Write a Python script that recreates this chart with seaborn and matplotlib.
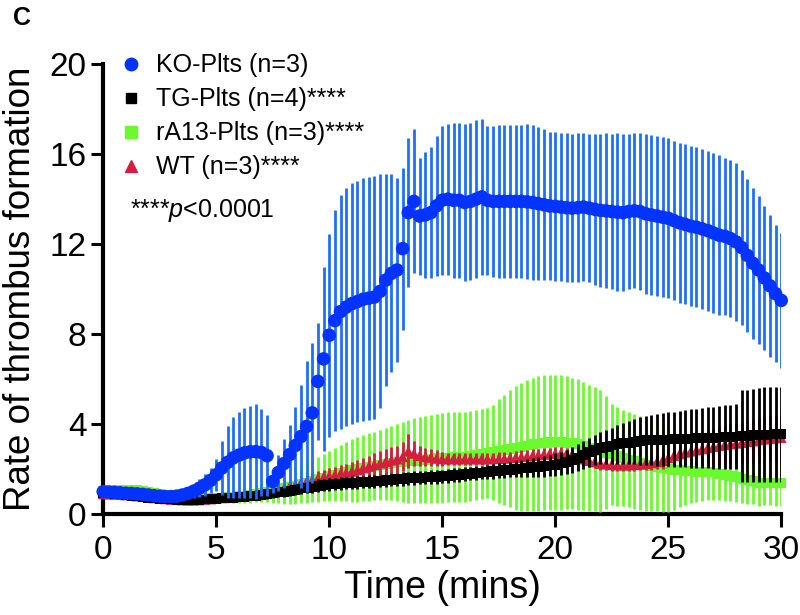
import matplotlib
matplotlib.use("Agg")
import matplotlib.pyplot as plt
from matplotlib.lines import Line2D
import numpy as np
import pandas as pd
import seaborn as sns

# time axis, one reading every 15 s
time_min = np.arange(0, 30.01, 0.25)

ko_mean = [
    1.00, 0.98, 0.97, 0.95, 0.93, 0.92, 0.90, 0.88,
    0.85, 0.82, 0.80, 0.78, 0.78, 0.80, 0.85, 0.92,
    1.02, 1.15, 1.30, 1.50, 1.75, 2.05, 2.30, 2.50,
    2.62, 2.72, 2.77, 2.78, 2.74, 2.60, 1.45, 1.85,
    2.25, 2.65, 3.05, 3.45, 3.90, 4.50, 5.90, 6.90,
    7.95, 8.60, 9.00, 9.20, 9.35, 9.45, 9.55, 9.60,
    9.65, 9.90, 10.40, 10.70, 10.85, 11.80, 13.40, 13.90,
    13.25, 13.30, 13.40, 13.70, 13.95, 14.00, 13.95, 13.95,
    13.85, 13.90, 14.00, 14.10, 13.95, 13.90, 13.90, 13.90,
    13.90, 13.90, 13.90, 13.88, 13.85, 13.80, 13.75, 13.70,
    13.68, 13.65, 13.62, 13.60, 13.62, 13.65, 13.60, 13.55,
    13.50, 13.48, 13.45, 13.42, 13.40, 13.45, 13.48, 13.45,
    13.35, 13.30, 13.25, 13.20, 13.15, 13.05, 12.95, 12.88,
    12.80, 12.75, 12.68, 12.60, 12.50, 12.40, 12.35, 12.25,
    12.10, 11.85, 11.50, 11.15, 10.85, 10.50, 10.15, 9.80,
    9.50]
ko_err = [
    0.08, 0.08, 0.08, 0.08, 0.08, 0.08, 0.08, 0.08,
    0.08, 0.08, 0.08, 0.08, 0.10, 0.12, 0.15, 0.20,
    0.30, 0.40, 0.50, 0.55, 0.70, 1.20, 1.60, 1.80,
    1.90, 2.00, 2.05, 2.10, 1.95, 1.80, 0.50, 0.80,
    1.10, 1.30, 1.70, 2.30, 2.90, 3.10, 2.60, 4.10,
    4.50, 4.90, 5.20, 5.30, 5.35, 5.35, 5.40, 5.40,
    5.40, 5.20, 4.70, 4.40, 4.10, 3.60, 3.30, 3.20,
    2.60, 2.80, 2.90, 3.10, 3.30, 3.35, 3.45, 3.45,
    3.50, 3.50, 3.50, 3.45, 3.30, 3.35, 3.40, 3.40,
    3.40, 3.40, 3.40, 3.45, 3.45, 3.40, 3.35, 3.30,
    3.30, 3.30, 3.30, 3.30, 3.30, 3.30, 3.30, 3.35,
    3.40, 3.45, 3.45, 3.50, 3.50, 3.45, 3.45, 3.50,
    3.55, 3.55, 3.55, 3.55, 3.55, 3.55, 3.55, 3.55,
    3.55, 3.55, 3.55, 3.55, 3.55, 3.55, 3.50, 3.50,
    3.50, 3.45, 3.40, 3.35, 3.30, 3.20, 3.15, 3.05,
    3.00]

tg_mean = [
    0.95, 0.93, 0.90, 0.88, 0.85, 0.82, 0.79, 0.75,
    0.72, 0.70, 0.68, 0.66, 0.65, 0.64, 0.64, 0.63,
    0.63, 0.64, 0.65, 0.66, 0.68, 0.70, 0.71, 0.73,
    0.75, 0.77, 0.79, 0.82, 0.85, 0.88, 0.92, 0.96,
    1.00, 1.04, 1.09, 1.14, 1.18, 1.22, 1.26, 1.29,
    1.32, 1.34, 1.36, 1.38, 1.40, 1.41, 1.43, 1.44,
    1.45, 1.48, 1.50, 1.53, 1.55, 1.57, 1.59, 1.60,
    1.62, 1.63, 1.65, 1.66, 1.68, 1.70, 1.73, 1.75,
    1.78, 1.80, 1.83, 1.85, 1.88, 1.90, 1.93, 1.95,
    1.98, 2.00, 2.03, 2.05, 2.08, 2.10, 2.13, 2.16,
    2.20, 2.25, 2.32, 2.40, 2.50, 2.62, 2.75, 2.85,
    2.95, 3.00, 3.05, 3.10, 3.15, 3.18, 3.22, 3.25,
    3.28, 3.29, 3.30, 3.31, 3.32, 3.33, 3.34, 3.35,
    3.36, 3.37, 3.38, 3.39, 3.40, 3.41, 3.42, 3.44,
    3.45, 3.47, 3.48, 3.50, 3.52, 3.53, 3.54, 3.55,
    3.55]
tg_err = [
    0.06, 0.06, 0.06, 0.06, 0.06, 0.06, 0.06, 0.06,
    0.06, 0.06, 0.06, 0.06, 0.06, 0.06, 0.06, 0.06,
    0.06, 0.07, 0.08, 0.09, 0.10, 0.11, 0.12, 0.13,
    0.14, 0.15, 0.16, 0.17, 0.18, 0.19, 0.20, 0.21,
    0.22, 0.23, 0.24, 0.25, 0.26, 0.27, 0.28, 0.28,
    0.28, 0.28, 0.28, 0.28, 0.28, 0.28, 0.28, 0.28,
    0.28, 0.28, 0.29, 0.29, 0.30, 0.30, 0.30, 0.30,
    0.30, 0.30, 0.30, 0.30, 0.30, 0.30, 0.30, 0.30,
    0.30, 0.30, 0.31, 0.31, 0.32, 0.32, 0.33, 0.34,
    0.35, 0.36, 0.38, 0.40, 0.42, 0.44, 0.46, 0.48,
    0.50, 0.52, 0.55, 0.58, 0.60, 0.62, 0.65, 0.68,
    0.70, 0.75, 0.80, 0.85, 0.90, 0.95, 1.00, 1.05,
    1.10, 1.12, 1.15, 1.18, 1.20, 1.22, 1.25, 1.27,
    1.30, 1.32, 1.34, 1.36, 1.38, 1.40, 1.42, 1.42,
    1.45, 2.05, 2.05, 2.08, 2.08, 2.10, 2.10, 2.10,
    2.12]

ra13_mean = [
    1.05, 1.06, 1.07, 1.08, 1.08, 1.08, 1.07, 1.05,
    1.00, 0.95, 0.90, 0.85, 0.80, 0.77, 0.74, 0.72,
    0.70, 0.70, 0.70, 0.71, 0.72, 0.74, 0.76, 0.78,
    0.80, 0.83, 0.86, 0.90, 0.95, 1.00, 1.05, 1.10,
    1.15, 1.21, 1.27, 1.33, 1.40, 1.48, 1.55, 1.62,
    1.70, 1.76, 1.83, 1.89, 1.95, 2.00, 2.05, 2.10,
    2.15, 2.19, 2.23, 2.26, 2.30, 2.33, 2.35, 2.38,
    2.40, 2.42, 2.45, 2.48, 2.50, 2.52, 2.53, 2.54,
    2.55, 2.58, 2.62, 2.66, 2.70, 2.75, 2.80, 2.85,
    2.90, 2.95, 3.00, 3.05, 3.10, 3.14, 3.17, 3.19,
    3.20, 3.20, 3.18, 3.15, 3.10, 3.03, 2.95, 2.88,
    2.80, 2.73, 2.65, 2.58, 2.50, 2.42, 2.35, 2.28,
    2.20, 2.15, 2.10, 2.05, 2.00, 1.98, 1.95, 1.92,
    1.90, 1.89, 1.88, 1.86, 1.85, 1.80, 1.75, 1.70,
    1.65, 1.58, 1.52, 1.46, 1.40, 1.40, 1.40, 1.40,
    1.40]
ra13_err = [
    0.08, 0.08, 0.08, 0.08, 0.08, 0.08, 0.08, 0.08,
    0.08, 0.08, 0.08, 0.08, 0.09, 0.10, 0.12, 0.14,
    0.15, 0.16, 0.17, 0.18, 0.20, 0.22, 0.25, 0.28,
    0.30, 0.32, 0.35, 0.38, 0.40, 0.48, 0.55, 0.62,
    0.70, 0.75, 0.80, 0.85, 0.90, 0.95, 1.00, 1.05,
    1.10, 1.18, 1.25, 1.32, 1.40, 1.45, 1.48, 1.50,
    1.52, 1.55, 1.58, 1.65, 1.72, 1.78, 1.85, 1.88,
    1.90, 1.92, 1.95, 1.97, 2.00, 2.00, 2.00, 2.00,
    2.00, 2.00, 2.00, 2.00, 2.00, 2.10, 2.30, 2.45,
    2.60, 2.75, 2.85, 2.90, 2.95, 3.00, 3.00, 3.00,
    3.00, 3.00, 2.95, 2.92, 2.90, 2.85, 2.80, 2.75,
    2.70, 2.50, 2.25, 2.20, 2.15, 2.12, 2.10, 2.08,
    2.05, 2.00, 1.98, 1.95, 1.90, 1.80, 1.65, 1.50,
    1.40, 1.35, 1.30, 1.25, 1.20, 1.18, 1.15, 1.12,
    1.10, 1.08, 1.05, 1.03, 1.02, 1.00, 1.00, 1.02,
    1.05]

wt_mean = [
    0.90, 0.89, 0.88, 0.87, 0.85, 0.83, 0.80, 0.78,
    0.75, 0.72, 0.70, 0.68, 0.65, 0.64, 0.63, 0.62,
    0.62, 0.63, 0.65, 0.67, 0.70, 0.72, 0.74, 0.76,
    0.78, 0.81, 0.84, 0.87, 0.90, 0.96, 1.02, 1.08,
    1.15, 1.22, 1.30, 1.38, 1.45, 1.52, 1.58, 1.64,
    1.70, 1.75, 1.80, 1.85, 1.90, 1.97, 2.05, 2.12,
    2.20, 2.27, 2.33, 2.40, 2.45, 2.55, 2.80, 2.70,
    2.60, 2.55, 2.52, 2.48, 2.45, 2.45, 2.45, 2.45,
    2.45, 2.45, 2.45, 2.45, 2.45, 2.46, 2.47, 2.48,
    2.50, 2.52, 2.55, 2.57, 2.60, 2.63, 2.66, 2.68,
    2.70, 2.70, 2.68, 2.65, 2.55, 2.45, 2.38, 2.32,
    2.25, 2.22, 2.20, 2.18, 2.18, 2.18, 2.20, 2.22,
    2.25, 2.28, 2.32, 2.38, 2.50, 2.60, 2.68, 2.75,
    2.80, 2.85, 2.90, 2.95, 3.00, 3.05, 3.08, 3.12,
    3.15, 3.18, 3.22, 3.25, 3.30, 3.33, 3.36, 3.38,
    3.40]
wt_err = [
    0.06, 0.06, 0.06, 0.06, 0.06, 0.06, 0.06, 0.06,
    0.06, 0.06, 0.06, 0.06, 0.06, 0.06, 0.06, 0.06,
    0.06, 0.06, 0.07, 0.07, 0.08, 0.08, 0.09, 0.10,
    0.10, 0.11, 0.12, 0.13, 0.14, 0.15, 0.16, 0.18,
    0.20, 0.22, 0.24, 0.26, 0.28, 0.30, 0.32, 0.34,
    0.35, 0.36, 0.38, 0.40, 0.42, 0.44, 0.46, 0.48,
    0.50, 0.52, 0.55, 0.58, 0.60, 0.65, 0.75, 0.55,
    0.45, 0.40, 0.38, 0.35, 0.30, 0.28, 0.26, 0.25,
    0.25, 0.25, 0.25, 0.25, 0.25, 0.26, 0.27, 0.28,
    0.28, 0.28, 0.28, 0.28, 0.28, 0.28, 0.28, 0.28,
    0.28, 0.28, 0.28, 0.28, 0.28, 0.28, 0.28, 0.28,
    0.28, 0.28, 0.28, 0.28, 0.28, 0.28, 0.28, 0.28,
    0.28, 0.30, 0.32, 0.36, 0.40, 0.45, 0.50, 0.55,
    0.60, 0.65, 0.70, 0.75, 0.80, 0.85, 0.88, 0.90,
    0.92, 0.95, 0.98, 1.00, 1.00, 1.00, 1.00, 1.00,
    1.00]

labels = ["KO-Plts (n=3)", "TG-Plts (n=4)****",
          "rA13-Plts (n=3)****", "WT (n=3)****"]

sns.set_theme(style="ticks")
plt.rcParams['font.family'] = ['Liberation Sans', 'DejaVu Sans']
plt.rcParams['mathtext.fontset'] = 'custom'
plt.rcParams['mathtext.rm'] = 'Liberation Sans'
plt.rcParams['mathtext.it'] = 'Liberation Sans:italic'
for key in ['text.color', 'axes.labelcolor', 'xtick.color', 'ytick.color',
            'axes.edgecolor']:
    plt.rcParams[key] = 'black'

BLUE, BLUE_BAR = '#0433ff', '#1f6fff'
GREEN = '#6bfa2e'
RED = '#d41e3f'
BLACK = '#000000'

fig = plt.figure(figsize=(8, 6.15), dpi=100)
ax = fig.add_axes([0.129, 0.164, 0.8475, 0.7317])

# draw order: green, red, black, then KO on top
groups = [
    (ra13_mean, ra13_err, GREEN, GREEN, 's', 50),
    (wt_mean, wt_err, RED, RED, '^', 60),
    (tg_mean, tg_err, BLACK, BLACK, 's', 50),
    (ko_mean, ko_err, BLUE, BLUE_BAR, 'o', 95),
]
for z, (mean, err, col, bar_col, mk, size) in enumerate(groups):
    df = pd.DataFrame({'time': time_min, 'rate': mean, 'err': err})
    ax.errorbar(df['time'], df['rate'], yerr=df['err'], fmt='none',
                ecolor=bar_col, elinewidth=2.0, capsize=0, zorder=3 + 2 * z)
    sns.scatterplot(data=df, x='time', y='rate', marker=mk, s=size, color=col,
                    edgecolor='none', linewidth=0, ax=ax, zorder=4 + 2 * z,
                    clip_on=False, legend=False)

ax.set_xlim(0, 30)
ax.set_ylim(0, 20)
ax.set_xticks(range(0, 31, 5))
ax.set_yticks(range(0, 21, 4))
ax.tick_params(axis='both', labelsize=24, length=9, width=2.2, pad=3)
ax.tick_params(axis='x', pad=6)
for side in ['left', 'bottom']:
    ax.spines[side].set_linewidth(3)
sns.despine(ax=ax)
ax.set_xlabel('Time (mins)', fontsize=27, labelpad=3)
ax.set_ylabel('Rate of thrombus formation', fontsize=26.5, labelpad=8)

handles = [
    Line2D([], [], marker='o', color=BLUE, linestyle='none', markersize=9),
    Line2D([], [], marker='s', color=BLACK, linestyle='none', markersize=7),
    Line2D([], [], marker='s', color=GREEN, linestyle='none', markersize=8),
    Line2D([], [], marker='^', color=RED, linestyle='none', markersize=9),
]
ax.legend(handles, labels, loc='upper left', bbox_to_anchor=(0.023, 1.024),
          frameon=False, fontsize=18, handlelength=1.0, handletextpad=0.5,
          labelspacing=0.4, borderpad=0, borderaxespad=0)
ax.text(0.04, 0.675, r'****$\mathit{p}$<0.0001', transform=ax.transAxes,
        fontsize=18, va='center', ha='left')

fig.text(0.016, 0.99, 'C', fontsize=18, fontweight='bold', va='top', ha='left')

fig.savefig('out.png', dpi=100)
